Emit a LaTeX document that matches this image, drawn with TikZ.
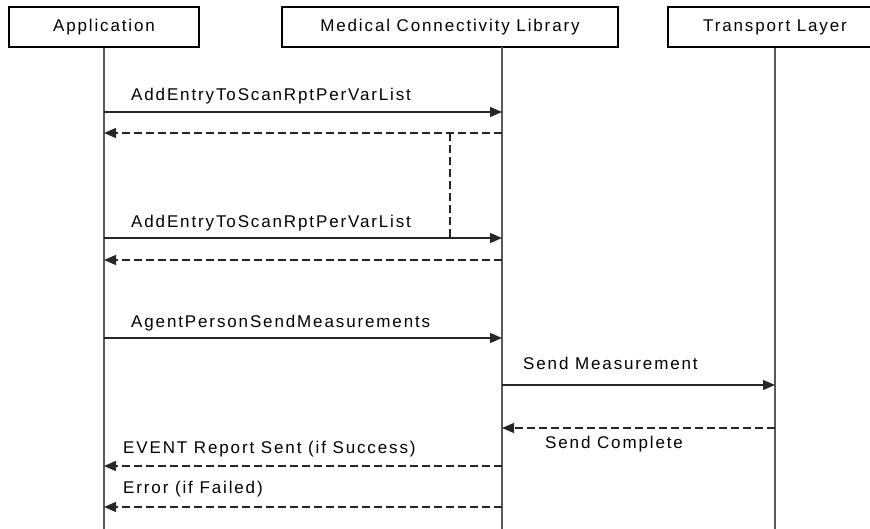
\documentclass[tikz,border=0pt]{standalone}
\usepackage{fontspec}
\setmainfont{Liberation Sans}[LetterSpace=11]
\usetikzlibrary{arrows.meta}

\begin{document}
\begin{tikzpicture}[x=1pt,y=-1pt]
% Style definitions
\tikzset{
    actor/.style={draw, line width=1.3pt, minimum height=40pt, inner sep=0pt,
                  font=\fontsize{17}{20}\selectfont},
    lifeline/.style={draw=black!65, line width=2pt},
    call/.style={draw=black!85, line width=1.3pt,
                 -{Triangle[length=12pt,width=10pt]}},
    reply/.style={call, dash pattern=on 8pt off 4pt},
    msg/.style={anchor=base west, inner sep=0pt, font=\fontsize{17}{20}\selectfont}
}

\useasboundingbox (0,0) rectangle (870,529);
\clip (0,0) rectangle (870,529);

% Actor boxes
\node[actor, minimum width=190pt] (app) at (104,27) {Application};
\node[actor, minimum width=336pt] (mcl) at (450,27) {Medical Connectivity Library};
\node[actor, minimum width=214pt] (tl) at (775,27) {Transport Layer};

% Lifelines
\coordinate (mclTop) at (502,47);
\coordinate (appEnd) at (104,529);
\coordinate (mclEnd) at (502,529);
\coordinate (tlEnd) at (775,529);
\draw[lifeline] (app.south) -- (appEnd);
\draw[lifeline] (mclTop) -- (mclEnd);
\draw[lifeline] (tl.south) -- (tlEnd);

% Points on the lifelines
\coordinate (a1) at (104,112); \coordinate (m1) at (502,112);
\coordinate (a2) at (104,133); \coordinate (m2) at (502,133);
\coordinate (a3) at (104,238); \coordinate (m3) at (502,238);
\coordinate (a4) at (104,260); \coordinate (m4) at (502,260);
\coordinate (a5) at (104,338); \coordinate (m5) at (502,338);
\coordinate (m6) at (502,385); \coordinate (t6) at (775,385);
\coordinate (m7) at (502,428); \coordinate (t7) at (775,428);
\coordinate (a8) at (104,466); \coordinate (m8) at (502,466);
\coordinate (a9) at (104,507); \coordinate (m9) at (502,507);
\coordinate (loopTop) at (450,133);
\coordinate (loopBot) at (450,238);

% Messages
\draw[call] (a1) -- (m1);
\draw[reply] (m2) -- (a2);
\draw[draw=black!85, line width=1.3pt, dash pattern=on 8pt off 4pt] (loopTop) -- (loopBot);
\draw[call] (a3) -- (m3);
\draw[reply] (m4) -- (a4);
\draw[call] (a5) -- (m5);
\draw[call] (m6) -- (t6);
\draw[reply] (t7) -- (m7);
\draw[reply] (m8) -- (a8);
\draw[reply] (m9) -- (a9);

% Labels
\node[msg] (l1) at (131,101) {AddEntryToScanRptPerVarList};
\node[msg] (l3) at (131,228) {AddEntryToScanRptPerVarList};
\node[msg] (l5) at (131,327) {AgentPersonSendMeasurements};
\node[msg] (l6) at (523,369) {Send Measurement};
\node[msg] (l7) at (545,448) {Send Complete};
\node[msg] (l8) at (123,453) {EVENT Report Sent (if Success)};
\node[msg] (l9) at (123,493) {Error (if Failed)};

\end{tikzpicture}
\end{document}
